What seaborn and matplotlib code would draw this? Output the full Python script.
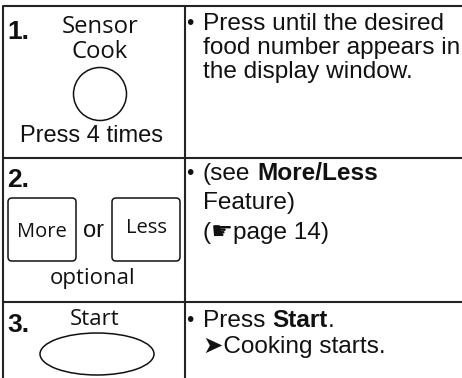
import matplotlib
matplotlib.use('Agg')
import matplotlib.pyplot as plt
from matplotlib.patches import Circle, Ellipse, FancyBboxPatch
import seaborn as sns

# Estilo
sns.set_theme(style="white")
plt.rcParams['font.family'] = ['Liberation Sans', 'DejaVu Sans']

# Contenido de la tabla
pasos = ['1.', '2.', '3.']
boton_sensor = ['Sensor', 'Cook']
nota_paso1 = 'Press 4 times'
botones_paso2 = ['More', 'Less']
union_paso2 = 'or'
nota_paso2 = 'optional'
boton_paso3 = 'Start'

# cada linea es una lista de (texto, negrita)
instr_1 = [[('Press until the desired', False)],
           [('food number appears in', False)],
           [('the display window.', False)]]
instr_2 = [[('(see', False), (' ', False), ('More/Less', True)],
           [('Feature)', False)],
           [('(\u261bpage 14)', False)]]
instr_3 = [[('Press', False), (' ', False), ('Start', True), ('.', False)],
           [('\u27a4Cooking starts.', False)]]
instrucciones = [instr_1, instr_2, instr_3]

# Layout (pixeles)
W, H = 462, 378
x_izq, x_div = 3, 185
y_top = 6
y_filas = [157.5, 301.5]
base_instr = [[30, 54, 78], [180, 209.5, 239], [327, 353]]
base_pasos = [39, 187, 332]
color_linea = '#232323'
color_texto = '#111111'
fs = 17.6

fig = plt.figure(figsize=(W / 100, H / 100), dpi=100)
ax = fig.add_axes([0, 0, 1, 1])
ax.set_xlim(0, W)
ax.set_ylim(H, 0)
ax.axis('off')
renderer = fig.canvas.get_renderer()

# Lineas de la tabla
ax.plot([x_izq, W], [y_top, y_top], color=color_linea, lw=1.5, solid_capstyle='butt')
ax.plot([x_izq, x_izq], [y_top, H], color=color_linea, lw=1.5)
ax.plot([x_div, x_div], [y_top, H], color=color_linea, lw=1.5)
for y in y_filas:
    ax.plot([x_izq, W], [y, y], color=color_linea, lw=1.5)


def ancho(texto, bold=False):
    if texto == ' ':
        return ancho('a a', bold) - ancho('aa', bold)
    t = ax.text(0, 0, texto, fontsize=fs, fontweight='bold' if bold else 'normal')
    w = t.get_window_extent(renderer).width
    t.remove()
    return w


def linea(x, y, partes):
    for texto, bold in partes:
        if texto.strip():
            ax.text(x, y, texto, fontsize=fs, color=color_texto, va='baseline', ha='left',
                    fontweight='bold' if bold else 'normal')
        x += ancho(texto, bold)


# Columna derecha
for bloque, bases in zip(instrucciones, base_instr):
    ax.text(186.5, bases[0] - 1, '\u2022', fontsize=15, color=color_texto, va='baseline')
    for partes, yb in zip(bloque, bases):
        linea(203, yb, partes)

# Numeros de paso
for paso, yb in zip(pasos, base_pasos):
    ax.text(7, yb, paso, fontsize=19, fontweight='bold', color=color_texto, va='baseline')

fuente_boton = ['Open Sans', 'DejaVu Sans']

# Paso 1
ax.text(100, 33, boton_sensor[0], family=fuente_boton, fontsize=17.2, ha='center',
        va='baseline', color=color_texto)
ax.text(100, 58, boton_sensor[1], family=fuente_boton, fontsize=17.2, ha='center',
        va='baseline', color=color_texto)
ax.add_patch(Circle((100, 94), 26.5, fill=False, ec=color_texto, lw=1.1))
ax.text(92, 142, nota_paso1, fontsize=17, ha='center', va='baseline', color=color_texto)

# Paso 2
for x0, txt, yb in [(8, botones_paso2[0], 237), (112, botones_paso2[1], 233)]:
    ax.add_patch(FancyBboxPatch((x0, 198), 68, 63, boxstyle='round,pad=0,rounding_size=4',
                                fill=False, ec=color_texto, lw=1.1))
    ax.text(x0 + 34, yb, txt, family=fuente_boton, fontsize=14.5, ha='center',
            va='baseline', color=color_texto)
ax.text(94, 237, union_paso2, fontsize=17, ha='center', va='baseline', color=color_texto)
ax.text(93, 284, nota_paso2, family=fuente_boton, fontsize=16, ha='center',
        va='baseline', color=color_texto)

# Paso 3
ax.text(95, 325, boton_paso3, family=fuente_boton, fontsize=16, ha='center',
        va='baseline', color=color_texto)
ax.add_patch(Ellipse((97, 354), 114, 42, fill=False, ec=color_texto, lw=1.1))

plt.savefig('out.png', dpi=100)
